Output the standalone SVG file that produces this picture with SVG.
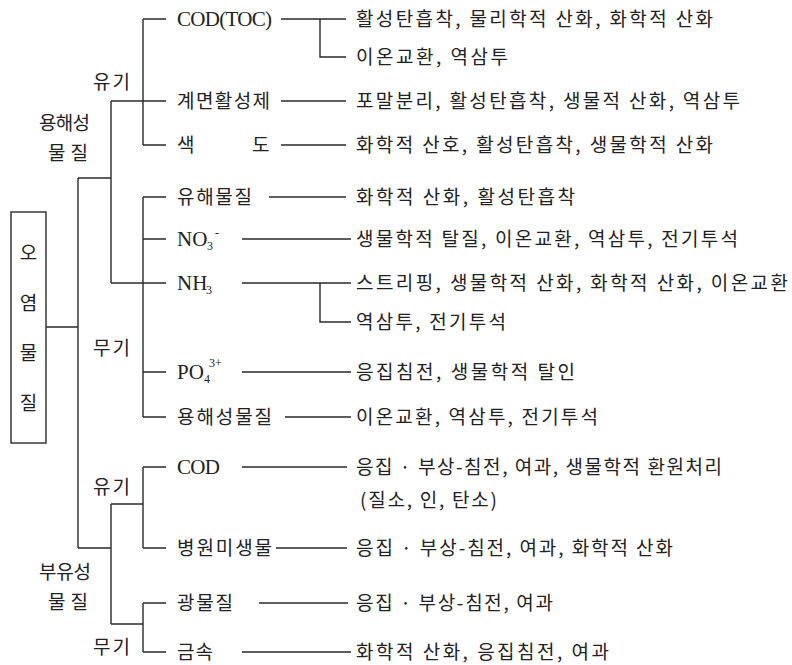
<svg xmlns="http://www.w3.org/2000/svg" width="792" height="665" viewBox="0 0 792 665">
<style>
.k{font-family:"Noto Sans CJK KR","Noto Sans",sans-serif;font-size:19px;fill:#222}
.l{font-family:"Liberation Serif","Noto Serif",serif;font-size:21px;fill:#222}
.s{font-family:"Liberation Serif",serif;font-size:12px;fill:#222}
.c{stroke:#2a2a2a;stroke-width:1.4;fill:none}
</style>
<rect width="792" height="665" fill="#fff"/>
<g id="connectors" class="c">
<path d="M46 327H78M78 178V548M78 178H111M111 101V283M78 548H111M111 504V624"/>
<path d="M143 19V145M143 19H166M111 101H166M143 145H166"/>
<path d="M143 197V417M143 197H166M143 239H166M111 283H166M143 372H166M143 417H166"/>
<path d="M111 504H143M143 467V548M143 467H166M143 548H166"/>
<path d="M111 624H143M143 603V652M143 603H166M143 652H166"/>
<path d="M281 19H346M320 19V57H346M281 101H346M281 145H346M269 197H346"/>
<path d="M242 239H351M242 283H351M320 283V322H351M242 372H351M285 417H351"/>
<path d="M242 467H347M276 548H347M259 603H348M242 652H351"/>
</g>
<g id="root">
<rect x="11" y="212" width="35" height="231" class="c"/>
<text class="k" x="28.5" y="260" text-anchor="middle">오</text>
<text class="k" x="28.5" y="310" text-anchor="middle">염</text>
<text class="k" x="28.5" y="360" text-anchor="middle">물</text>
<text class="k" x="28.5" y="410" text-anchor="middle">질</text>
</g>
<g id="soluble"><text class="k" x="39" y="130" textLength="51">용해성</text><text class="k" x="48" y="160" textLength="40">물질</text></g>
<g id="suspended"><text class="k" x="39" y="579" textLength="52">부유성</text><text class="k" x="48" y="609" textLength="40">물질</text></g>
<g id="sol-organic"><text class="k" x="93" y="89" textLength="37">유기</text></g>
<g id="sol-inorganic"><text class="k" x="93" y="355" textLength="37">무기</text></g>
<g id="sus-organic"><text class="k" x="93" y="494" textLength="37">유기</text></g>
<g id="sus-inorganic"><text class="k" x="93" y="654" textLength="37">무기</text></g>

<g id="cod-toc"><text class="l" x="177" y="26" textLength="95">COD(TOC)</text></g>
<g id="surfactant"><text class="k" x="177" y="108" textLength="93">계면활성제</text></g>
<g id="color"><text class="k" x="177" y="152">색</text><text class="k" x="252" y="152">도</text></g>
<g id="hazardous"><text class="k" x="177" y="204" textLength="75">유해물질</text></g>
<g id="no3"><text class="l" x="177" y="246">NO</text><text class="s" x="207" y="250">3</text><text class="s" x="215" y="237">-</text></g>
<g id="nh3"><text class="l" x="177" y="290">NH</text><text class="s" x="206" y="294">3</text></g>
<g id="po4"><text class="l" x="177" y="379">PO</text><text class="s" x="204" y="383">4</text><text class="s" x="209" y="367">3+</text></g>
<g id="dissolved"><text class="k" x="177" y="424" textLength="95">용해성물질</text></g>
<g id="cod"><text class="l" x="177" y="474" textLength="43">COD</text></g>
<g id="pathogen"><text class="k" x="177" y="555" textLength="95">병원미생물</text></g>
<g id="mineral"><text class="k" x="177" y="610" textLength="56">광물질</text></g>
<g id="metal"><text class="k" x="177" y="659" textLength="36">금속</text></g>

<g id="t1"><text class="k" x="356" y="26" textLength="357">활성탄흡착, 물리학적 산화, 화학적 산화</text></g>
<g id="t2"><text class="k" x="356" y="64" textLength="152">이온교환, 역삼투</text></g>
<g id="t3"><text class="k" x="356" y="108" textLength="384">포말분리, 활성탄흡착, 생물적 산화, 역삼투</text></g>
<g id="t4"><text class="k" x="356" y="152" textLength="357">화학적 산호, 활성탄흡착, 생물학적 산화</text></g>
<g id="t5"><text class="k" x="356" y="204" textLength="219">화학적 산화, 활성탄흡착</text></g>
<g id="t6"><text class="k" x="356" y="246" textLength="382">생물학적 탈질, 이온교환, 역삼투, 전기투석</text></g>
<g id="t7"><text class="k" x="356" y="290" textLength="432">스트리핑, 생물학적 산화, 화학적 산화, 이온교환</text></g>
<g id="t8"><text class="k" x="356" y="329" textLength="150">역삼투, 전기투석</text></g>
<g id="t9"><text class="k" x="356" y="379" textLength="219">응집침전, 생물학적 탈인</text></g>
<g id="t10"><text class="k" x="356" y="424" textLength="242">이온교환, 역삼투, 전기투석</text></g>
<g id="t11"><text class="k" x="356" y="474" textLength="366">응집 · 부상-침전, 여과, 생물학적 환원처리</text><text class="k" x="360" y="507" textLength="137">(질소, 인, 탄소)</text></g>
<g id="t12"><text class="k" x="356" y="555" textLength="317">응집 · 부상-침전, 여과, 화학적 산화</text></g>
<g id="t13"><text class="k" x="356" y="610" textLength="197">응집 · 부상-침전, 여과</text></g>
<g id="t14"><text class="k" x="356" y="659" textLength="253">화학적 산화, 응집침전, 여과</text></g>
</svg>
